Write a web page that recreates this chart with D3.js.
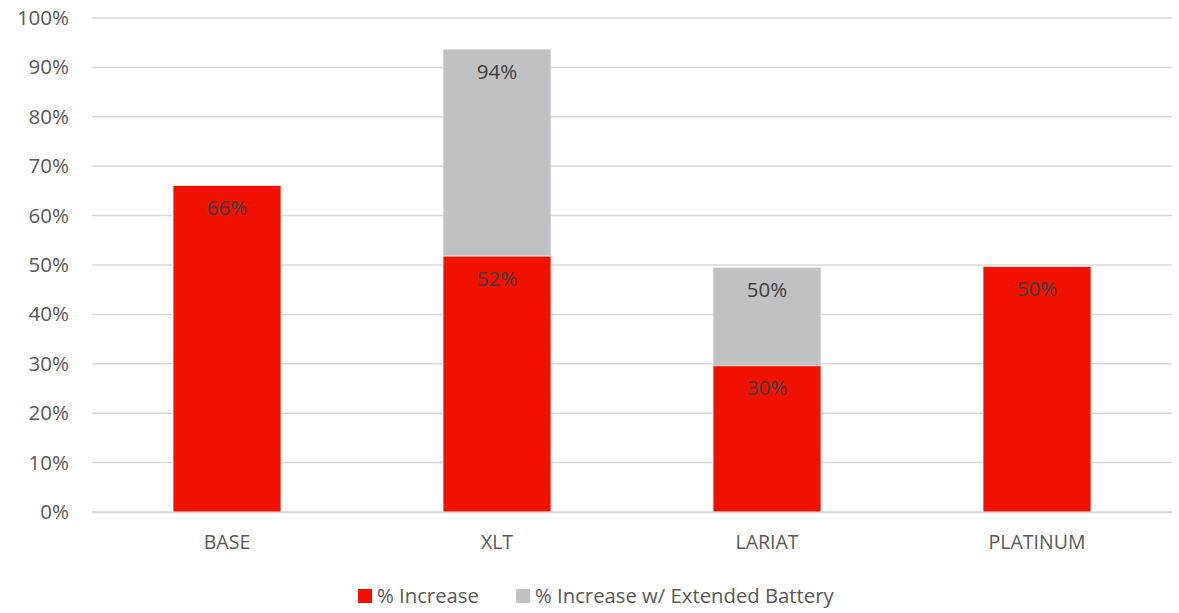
<!DOCTYPE html>
<html>
<head>
<meta charset="utf-8">
<script src="https://cdn.jsdelivr.net/npm/d3@7"></script>
<style>
  body { margin: 0; background: #fff; }
  text { font-family: "Open Sans", "Noto Sans", sans-serif; }
</style>
</head>
<body>
<div id="chart"></div>
<script>
var categories = ['BASE', 'XLT', 'LARIAT', 'PLATINUM'];
var increase = [0.661, 0.518, 0.296, 0.497];
var increase_battery = [null, 0.937, 0.495, null];
var series_names = ['% Increase', '% Increase w/ Extended Battery'];
var y_ticks = [0, 0.1, 0.2, 0.3, 0.4, 0.5, 0.6, 0.7, 0.8, 0.9, 1];

var chart_width = 1179;
var chart_height = 613;
var plot_left = 92, plot_right = 1172, plot_top = 18, plot_bottom = 512;
var red = '#f01100';
var grey = '#c0c1c3';
var text_col = '#595959';

var svg = d3.select('#chart')
	.append('svg')
	.attr('width', chart_width)
	.attr('height', chart_height);

var x_scale = d3.scaleBand()
	.domain(categories)
	.range([plot_left, plot_right])
	.paddingInner(0.6)
	.paddingOuter(0.3);

var y_scale = d3.scaleLinear()
	.domain([0, 1])
	.range([plot_bottom, plot_top]);

var pct = d3.format('.0%');

// gridlines
svg.append('g')
	.selectAll('line')
	.data(y_ticks)
	.enter()
	.append('line')
	.attr('x1', plot_left)
	.attr('x2', plot_right)
	.attr('y1', function (d) { return y_scale(d); })
	.attr('y2', function (d) { return y_scale(d); })
	.attr('stroke', '#d9d9d9')
	.attr('stroke-width', 1.5);

// y axis labels
var y_axis = d3.axisLeft(y_scale)
	.tickValues(y_ticks)
	.tickFormat(pct)
	.tickSize(0)
	.tickPadding(23);
svg.append('g')
	.attr('transform', 'translate(' + plot_left + ',0)')
	.call(y_axis)
	.call(function (g) {
		g.select('.domain').remove();
		g.selectAll('text')
			.attr('fill', text_col)
			.style('font-size', '20.5px')
			.style('font-family', '"Open Sans", sans-serif');
	});

// grey bars sit behind the red ones
var grey_data = categories.map(function (c, i) { return { cat: c, v: increase_battery[i] }; })
	.filter(function (d) { return d.v != null; });
var red_data = categories.map(function (c, i) { return { cat: c, v: increase[i] }; });

function draw_bars(data, fill) {
	var g = svg.append('g');
	g.selectAll('rect')
		.data(data)
		.enter()
		.append('rect')
		.attr('x', function (d) { return x_scale(d.cat); })
		.attr('y', function (d) { return y_scale(d.v); })
		.attr('width', x_scale.bandwidth())
		.attr('height', function (d) { return y_scale(0) - y_scale(d.v); })
		.attr('fill', fill)
		.attr('stroke', '#f2f2f2')
		.attr('stroke-width', 0.8);
	g.selectAll('text')
		.data(data)
		.enter()
		.append('text')
		.text(function (d) { return pct(d.v); })
		.attr('x', function (d) { return x_scale(d.cat) + x_scale.bandwidth() / 2; })
		.attr('y', function (d) { return y_scale(d.v) + 24; })
		.attr('text-anchor', 'middle')
		.attr('dominant-baseline', 'middle')
		.attr('fill', '#404040')
		.style('font-size', '20.5px');
}
draw_bars(grey_data, grey);
draw_bars(red_data, red);

// x axis
var x_axis = d3.axisBottom(x_scale).tickSize(0).tickPadding(23);
svg.append('g')
	.attr('transform', 'translate(0,' + plot_bottom + ')')
	.call(x_axis)
	.call(function (g) {
		g.select('.domain').attr('stroke', '#d9d9d9').attr('stroke-width', 1.5);
		g.selectAll('text')
			.attr('fill', text_col)
			.style('font-size', '19.5px')
			.style('font-family', '"Open Sans", sans-serif');
	});

// legend
var legend_x = [358, 516];
var legend = svg.append('g');
legend.selectAll('rect')
	.data(series_names)
	.enter()
	.append('rect')
	.attr('x', function (d, i) { return legend_x[i]; })
	.attr('y', 589)
	.attr('width', 14)
	.attr('height', 14)
	.attr('fill', function (d, i) { return i === 0 ? red : grey; });
legend.selectAll('text')
	.data(series_names)
	.enter()
	.append('text')
	.text(function (d) { return d; })
	.attr('x', function (d, i) { return legend_x[i] + 19; })
	.attr('y', 603)
	.attr('fill', text_col)
	.style('font-size', '20.3px');
</script>
</body>
</html>
